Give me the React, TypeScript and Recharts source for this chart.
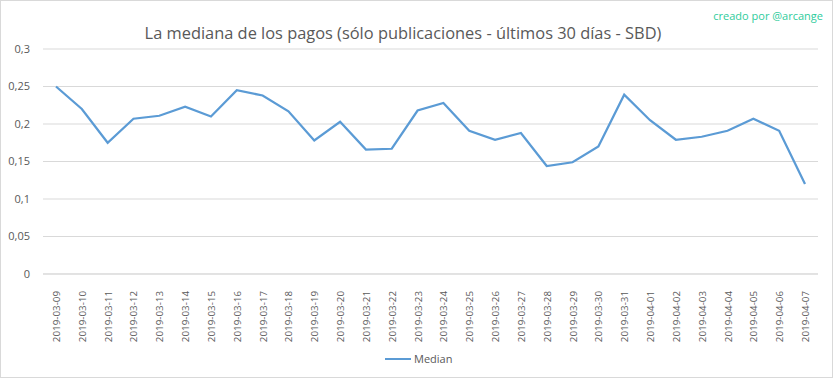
import { LineChart, Line, XAxis, YAxis, CartesianGrid } from 'recharts'

const dates = [
  '2019-03-09', '2019-03-10', '2019-03-11', '2019-03-12', '2019-03-13', '2019-03-14',
  '2019-03-15', '2019-03-16', '2019-03-17', '2019-03-18', '2019-03-19', '2019-03-20',
  '2019-03-21', '2019-03-22', '2019-03-23', '2019-03-24', '2019-03-25', '2019-03-26',
  '2019-03-27', '2019-03-28', '2019-03-29', '2019-03-30', '2019-03-31', '2019-04-01',
  '2019-04-02', '2019-04-03', '2019-04-04', '2019-04-05', '2019-04-06', '2019-04-07',
]

const median = [
  0.25, 0.22, 0.175, 0.207, 0.211, 0.223,
  0.21, 0.245, 0.238, 0.217, 0.178, 0.203,
  0.166, 0.167, 0.218, 0.228, 0.191, 0.179,
  0.188, 0.144, 0.149, 0.17, 0.239, 0.205,
  0.179, 0.183, 0.191, 0.207, 0.191, 0.12,
]

const yTicks = [0, 0.05, 0.1, 0.15, 0.2, 0.25, 0.3]

const FONT = 'Open Sans, sans-serif'
const GREY = '#595959'

const chartData = dates.map((d, i) => ({ date: d, median: median[i] }))

// rotated date labels, read bottom-to-top like Excel
function DateTick({ x, y, payload }: any) {
  return (
    <text
      x={0}
      y={0}
      transform={`translate(${x + 4},${y + 9}) rotate(-90)`}
      textAnchor="end"
      fontSize={9.8}
      fontFamily={FONT}
      fill={GREY}
    >
      {payload.value}
    </text>
  )
}

export default function App() {
  return (
    <div style={{ position: 'absolute', left: 0, top: 0, width: 833, height: 378, background: '#fff', fontFamily: FONT }}>
      <div style={{ position: 'absolute', left: 0, top: 0, width: 831, height: 376, border: '1px solid #d9d9d9' }} />
      <div style={{ position: 'absolute', left: 0, top: 21, width: 806, textAlign: 'center', fontSize: 16.4, color: GREY, whiteSpace: 'nowrap' }}>
        La mediana de los pagos (sólo publicaciones - últimos 30 días - SBD)
      </div>
      <div style={{ position: 'absolute', right: 10, top: 8, fontSize: 11, color: '#2fcc9c' }}>
        creado por @arcange
      </div>
      <div style={{ position: 'absolute', left: 0, top: 0 }}>
        <LineChart width={833} height={378} data={chartData} margin={{ top: 49, right: 15, left: 0, bottom: 0 }}>
          <CartesianGrid horizontal vertical={false} stroke="#d9d9d9" strokeWidth={1} />
          <XAxis
            dataKey="date"
            interval={0}
            height={104}
            padding={{ left: 13, right: 13 }}
            tickLine={false}
            axisLine={{ stroke: '#d9d9d9' }}
            tick={<DateTick />}
          />
          <YAxis
            width={43}
            domain={[0, 0.3]}
            ticks={yTicks}
            tickLine={false}
            axisLine={false}
            tickFormatter={(v: number) => String(v).replace('.', ',')}
            tick={{ fontSize: 11, fill: GREY, fontFamily: FONT, dx: -5 }}
          />
          <Line
            type="linear"
            dataKey="median"
            stroke="#5b9bd5"
            strokeWidth={2.25}
            dot={false}
            isAnimationActive={false}
          />
        </LineChart>
      </div>
      <div style={{ position: 'absolute', left: 385, top: 351, display: 'flex', alignItems: 'center', fontSize: 11, color: GREY }}>
        <span style={{ display: 'inline-block', width: 26, height: 2, background: '#5b9bd5', marginRight: 3 }} />
        Median
      </div>
    </div>
  )
}
